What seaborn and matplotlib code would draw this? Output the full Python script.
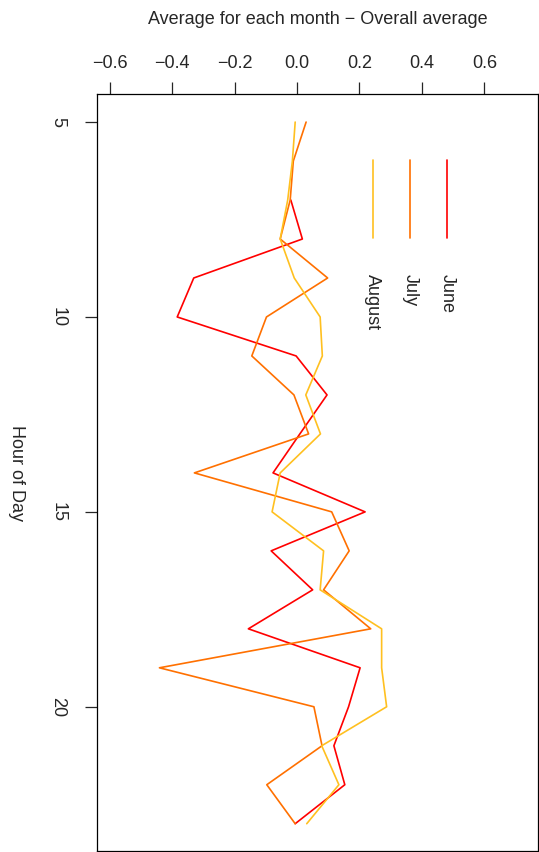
import numpy as np
import pandas as pd
import matplotlib
matplotlib.use("Agg")
import matplotlib.pyplot as plt
import seaborn as sns
from matplotlib.lines import Line2D

hours = list(range(5, 24))
june = [np.nan, np.nan, -0.020, 0.017, -0.331, -0.384, -0.003, 0.096, 0.009, -0.077,
        0.218, -0.083, 0.050, -0.156, 0.202, 0.165, 0.118, 0.153, -0.006]
july = [0.029, -0.012, -0.022, -0.054, 0.098, -0.098, -0.145, -0.010, 0.037, -0.329,
        0.111, 0.167, 0.085, 0.236, -0.441, 0.054, 0.080, -0.097, -0.006]
august = [-0.006, -0.015, -0.030, -0.054, -0.009, 0.074, 0.081, 0.028, 0.075, -0.054,
          -0.080, 0.085, 0.074, 0.271, 0.271, 0.287, 0.079, 0.134, 0.031]
months = ["June", "July", "August"]
colors = ["#FF0000", "#FF7000", "#FFC020"]
xticks = [-0.6, -0.4, -0.2, 0.0, 0.2, 0.4, 0.6]
yticks = [5, 10, 15, 20]

rows = []
for m, vals in zip(months, [june, july, august]):
    for h, v in zip(hours, vals):
        if not np.isnan(v):
            rows.append({"month": m, "hour": h, "value": v})
df = pd.DataFrame(rows)

sns.set_style("white")
plt.rcParams["font.family"] = ["Liberation Sans", "DejaVu Sans"]

fig = plt.figure(figsize=(5.39, 8.52), dpi=100)
W, H = 539, 852
ax = fig.add_axes([97 / W, 1 - 851 / H, (538 - 97) / W, (851 - 94) / H])

sns.lineplot(data=df, x="value", y="hour", hue="month", hue_order=months,
             palette=colors, orient="y", estimator=None, sort=True,
             linewidth=1.2, legend=False, ax=ax)

ax.set_xlim(-0.641, 0.772)
ax.set_ylim(23.7, 4.28)

fs = 13
ax.xaxis.tick_top()
ax.xaxis.set_label_position("top")
ax.set_xticks(xticks)
ax.set_xticklabels([f"{t:.1f}".replace("-", "\u2212") for t in xticks], fontsize=fs)
ax.set_yticks(yticks)
ax.set_yticklabels([str(t) for t in yticks], fontsize=fs, rotation=270, va="center")
ax.tick_params(axis="x", direction="out", length=9, width=0.9, pad=7, top=True, bottom=False)
ax.tick_params(axis="y", direction="out", length=9, width=0.9, pad=13, left=True)

ax.set_xlabel("Average for each month \u2212 Overall average", fontsize=fs, labelpad=22)
ax.set_ylabel("Hour of Day", fontsize=fs, rotation=270, labelpad=30, va="bottom")

for s in ax.spines.values():
    s.set_visible(True)
    s.set_color("black")
    s.set_linewidth(0.9)

# legend drawn rotated like the reference
leg_x = [0.794, 0.710, 0.625]
for m, c, lx in zip(months, colors, leg_x):
    ax.add_line(Line2D([lx, lx], [0.913, 0.81], transform=ax.transAxes,
                       color=c, linewidth=1.2))
    ax.text(lx, 0.762, m, transform=ax.transAxes, rotation=270,
            ha="center", va="top", fontsize=fs)

fig.savefig("out.png", dpi=100)
